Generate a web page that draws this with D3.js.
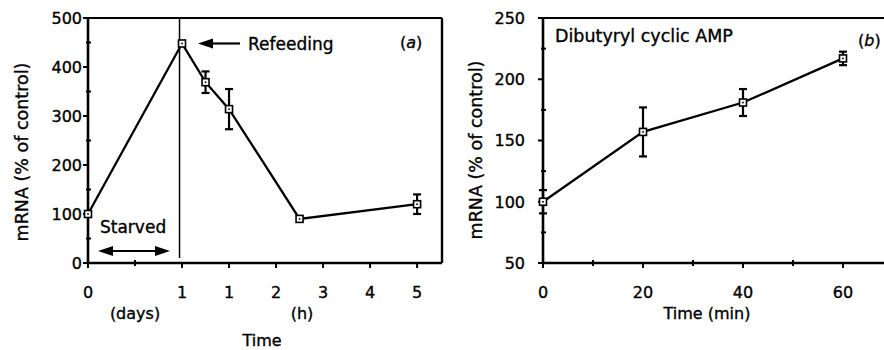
<!DOCTYPE html>
<html>
<head>
<meta charset="utf-8">
<script src="https://cdn.jsdelivr.net/npm/d3@7"></script>
<style>
  body { margin: 0; background: #fff; }
  svg text { font-family: "DejaVu Sans", sans-serif; fill: #000; stroke: #000; stroke-width: 0.35px; }
</style>
</head>
<body>
<script>
// panel (a): day 0 is starved, refeeding starts at day 1 == hour 0
// positions on the axis: days are drawn two units wide, hours one unit
const aTimes = [-2, 0, 0.5, 1, 2.5, 5];
const aMean = [100, 448, 369, 314, 90, 120];
const aErr = [0, 0, 22, 41, 0, 20];
const aTickVals = [-2, 0, 1, 2, 3, 4, 5];
const aTickLabels = ["0", "1", "1", "2", "3", "4", "5"];
const aMinorX = [-1];
const aYTicks = [0, 100, 200, 300, 400, 500];
const aYMinor = [50, 150, 250, 350, 450];

// panel (b): dibutyryl cyclic AMP
const bTimes = [0, 20, 40, 60];
const bMean = [100, 157, 181, 217];
const bErr = [9.5, 20, 11, 5.5];
const bTickVals = [0, 20, 40, 60];
const bMinorX = [10, 30, 50];
const bYTicks = [50, 100, 150, 200, 250];
const bYMinor = [75, 125, 175, 225];

const width = 884;
const height = 350;

const svg = d3.select("body").append("svg")
  .attr("width", width)
  .attr("height", height);

const xA = d3.scaleLinear().domain([-2, 5.53]).range([88, 442]);
const yA = d3.scaleLinear().domain([0, 500]).range([263, 18]);
const xB = d3.scaleLinear().domain([0, 68.6]).range([543, 886]);
const yB = d3.scaleLinear().domain([50, 250]).range([263, 18]);

function frame(x, y) {
  const g = svg.append("g");
  const [x0, x1] = x.range();
  const [y0, y1] = y.range();
  // top and right border
  g.append("path")
    .attr("d", `M${x0},${y1}H${x1}`)
    .attr("fill", "none").attr("stroke", "#000").attr("stroke-width", 1.8);
  g.append("path")
    .attr("d", `M${x1},${y1}V${y0}`)
    .attr("fill", "none").attr("stroke", "#000").attr("stroke-width", 2.4);
  // axes
  g.append("path")
    .attr("d", `M${x0},${y1 - 1}V${y0}H${x1}`)
    .attr("fill", "none").attr("stroke", "#000").attr("stroke-width", 2.6);
  return g;
}

function ticks(g, x, y, xt, xLabels, xMinor, yt, yMinor, yLabelX) {
  const xBase = y.range()[0];
  const yBase = x.range()[0];
  xt.forEach((v, i) => {
    g.append("line").attr("x1", x(v)).attr("x2", x(v))
      .attr("y1", xBase).attr("y2", xBase + 5)
      .attr("stroke", "#000").attr("stroke-width", 2);
    g.append("text").attr("x", x(v)).attr("y", 298)
      .attr("text-anchor", "middle").attr("font-size", 16)
      .text(xLabels ? xLabels[i] : v);
  });
  xMinor.forEach((v) => {
    g.append("line").attr("x1", x(v)).attr("x2", x(v))
      .attr("y1", xBase - 3).attr("y2", xBase + 3)
      .attr("stroke", "#000").attr("stroke-width", 2);
  });
  yt.forEach((v) => {
    g.append("line").attr("x1", yBase - 5).attr("x2", yBase)
      .attr("y1", y(v)).attr("y2", y(v))
      .attr("stroke", "#000").attr("stroke-width", 2);
    g.append("text").attr("x", yLabelX).attr("y", y(v))
      .attr("dy", "0.36em")
      .attr("text-anchor", "end").attr("font-size", 16)
      .text(v);
  });
  yMinor.forEach((v) => {
    g.append("line").attr("x1", yBase - 2).attr("x2", yBase + 3)
      .attr("y1", y(v)).attr("y2", y(v))
      .attr("stroke", "#000").attr("stroke-width", 2);
  });
}

function series(g, x, y, times, mean, err) {
  const pts = times.map((t, i) => ({ t: t, m: mean[i], e: err[i] }));
  g.append("path")
    .datum(pts)
    .attr("fill", "none").attr("stroke", "#000").attr("stroke-width", 2.3)
    .attr("d", d3.line().x((d) => x(d.t)).y((d) => y(d.m)));

  const eb = g.selectAll(".err").data(pts.filter((d) => d.e > 0)).enter()
    .append("g").attr("class", "err");
  eb.append("line")
    .attr("x1", (d) => x(d.t)).attr("x2", (d) => x(d.t))
    .attr("y1", (d) => y(d.m + d.e)).attr("y2", (d) => y(d.m - d.e))
    .attr("stroke", "#000").attr("stroke-width", 2.2);
  [1, -1].forEach((s) => {
    eb.append("line")
      .attr("x1", (d) => x(d.t) - 4).attr("x2", (d) => x(d.t) + 4)
      .attr("y1", (d) => y(d.m + s * d.e)).attr("y2", (d) => y(d.m + s * d.e))
      .attr("stroke", "#000").attr("stroke-width", 2.2);
  });

  const mk = g.selectAll(".mk").data(pts).enter()
    .append("g").attr("class", "mk");
  mk.append("rect")
    .attr("x", (d) => x(d.t) - 3.5).attr("y", (d) => y(d.m) - 3.5)
    .attr("width", 7).attr("height", 7)
    .attr("fill", "#fff").attr("stroke", "#000").attr("stroke-width", 1.6);
  mk.append("rect")
    .attr("x", (d) => x(d.t) - 0.8).attr("y", (d) => y(d.m) - 0.8)
    .attr("width", 1.6).attr("height", 1.6).attr("fill", "#000");
}

function arrowHead(g, tipX, tipY, dir) {
  // dir = -1 points left, 1 points right
  g.append("path")
    .attr("d", `M${tipX},${tipY}L${tipX - dir * 15},${tipY - 5}L${tipX - dir * 15},${tipY + 5}Z`)
    .attr("fill", "#000");
}

// ---- panel (a)
const gA = frame(xA, yA);
ticks(gA, xA, yA, aTickVals, aTickLabels, aMinorX, aYTicks, aYMinor, 82);

// refeeding line
gA.append("line")
  .attr("x1", xA(0) - 2.5).attr("x2", xA(0) - 2.5)
  .attr("y1", yA(500)).attr("y2", yA(0) - 5)
  .attr("stroke", "#000").attr("stroke-width", 1.5);

series(gA, xA, yA, aTimes, aMean, aErr);

// Refeeding arrow
const refY = yA(448);
gA.append("line").attr("x1", 210).attr("x2", 240)
  .attr("y1", refY).attr("y2", refY)
  .attr("stroke", "#000").attr("stroke-width", 2.2);
arrowHead(gA, 198, refY, -1);
gA.append("text").attr("x", 248).attr("y", 50)
  .attr("font-size", 17).text("Refeeding");

// Starved double arrow
gA.append("line").attr("x1", 110).attr("x2", 158)
  .attr("y1", 251).attr("y2", 251)
  .attr("stroke", "#000").attr("stroke-width", 2.2);
arrowHead(gA, 98, 251, -1);
arrowHead(gA, 170, 251, 1);
gA.append("text").attr("x", 100).attr("y", 233)
  .attr("font-size", 17).text("Starved");

const aLab = gA.append("text").attr("x", 400).attr("y", 48).attr("font-size", 16);
aLab.append("tspan").text("(");
aLab.append("tspan").attr("font-style", "italic").text("a");
aLab.append("tspan").text(")");

gA.append("text").attr("x", 135).attr("y", 319)
  .attr("text-anchor", "middle").attr("font-size", 16).text("(days)");
gA.append("text").attr("x", 302).attr("y", 319)
  .attr("text-anchor", "middle").attr("font-size", 16).text("(h)");
gA.append("text").attr("x", 262).attr("y", 346)
  .attr("text-anchor", "middle").attr("font-size", 16).text("Time");
gA.append("text")
  .attr("transform", "translate(28,152) rotate(-90)")
  .attr("text-anchor", "middle").attr("font-size", 17.5)
  .text("mRNA (% of control)");

// ---- panel (b)
const gB = frame(xB, yB);
ticks(gB, xB, yB, bTickVals, null, bMinorX, bYTicks, bYMinor, 525);
series(gB, xB, yB, bTimes, bMean, bErr);

gB.append("text").attr("x", 555).attr("y", 42)
  .attr("font-size", 17.5).text("Dibutyryl cyclic AMP");
const bLab = gB.append("text").attr("x", 858).attr("y", 46).attr("font-size", 16);
bLab.append("tspan").text("(");
bLab.append("tspan").attr("font-style", "italic").text("b");
bLab.append("tspan").text(")");

gB.append("text").attr("x", 707).attr("y", 319)
  .attr("text-anchor", "middle").attr("font-size", 16).text("Time (min)");
gB.append("text")
  .attr("transform", "translate(482,150) rotate(-90)")
  .attr("text-anchor", "middle").attr("font-size", 17.5)
  .text("mRNA (% of control)");
</script>
</body>
</html>
